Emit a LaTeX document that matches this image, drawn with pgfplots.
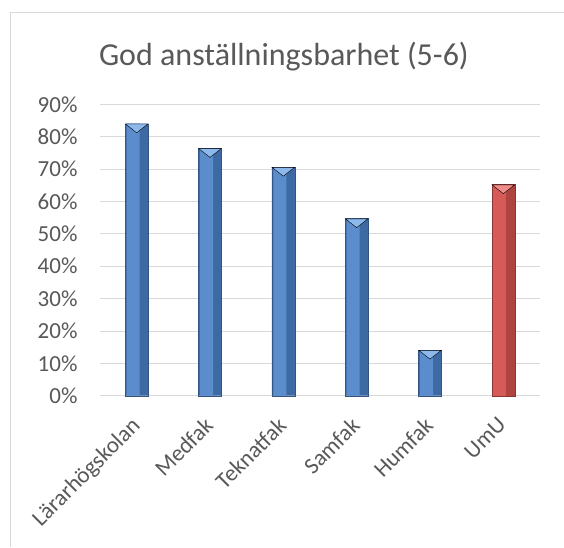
\documentclass[border=0pt]{standalone}
\usepackage{fontspec}
\setmainfont{Carlito}
\usepackage{pgfplots}
\usepackage{pgfplotstable}
\pgfplotsset{compat=1.18}

\definecolor{txt}{HTML}{595959}
\definecolor{gridc}{HTML}{D9D9D9}
\definecolor{blueL}{HTML}{5B8CCC}
\definecolor{blueD}{HTML}{3E6AA4}
\definecolor{blueT}{HTML}{8DB8EC}
\definecolor{redL}{HTML}{D65B58}
\definecolor{redD}{HTML}{AE4340}
\definecolor{redT}{HTML}{F28C8A}

% share of good employability (percent)
\pgfplotstableread{
x  y
0  84.0
1  76.4
2  70.6
3  54.7
4  14.1
}\faculties
\pgfplotstableread{
x  y
5  65.2
}\umu

\begin{document}
\begin{tikzpicture}
% frame of the chart area
\path[use as bounding box, fill=white] (-100pt,-151.3pt) rectangle (464pt,395.7pt);
\draw[gridc, line width=0.8pt] (-90pt,-151.3pt) -- (-90pt,383.7pt) -- (464pt,383.7pt);
\begin{axis}[
    at={(0,0)}, anchor=south west,
    scale only axis,
    width=440pt, height=291.4pt,
    xmin=-0.5, xmax=5.5,
    ymin=0, ymax=90,
    ybar, bar width=23pt, bar shift=0pt,
    xtick={0,...,5},
    xticklabels={Lärarhögskolan, Medfak, Teknatfak, Samfak, Humfak, UmU},
    ytick={0,10,...,90},
    yticklabel={\pgfmathprintnumber{\tick}\%},
    /pgf/number format/assume math mode=true,
    tick style={draw=none},
    axis y line*=left, axis x line*=bottom,
    y axis line style={draw=none},
    x axis line style={draw=gridc, line width=0.8pt},
    xmajorgrids=false, ymajorgrids,
    major grid style={draw=gridc, line width=0.8pt},
    ticklabel style={font=\fontsize{23}{27}\selectfont, text=txt},
    yticklabel style={xshift=-19pt},
    xticklabel style={rotate=45, anchor=north east, xshift=-12.6pt, yshift=-3pt},
    title={God anställningsbarhet (5-6)},
    title style={font=\fontsize{32}{38}\selectfont, text=txt,
        at={(axis description cs:0.418,1)}, anchor=base, yshift=33pt},
    clip=false,
]
\addplot[fill=blueD, draw=blueD!80!black, line width=0.4pt]
    table {\faculties};
\addplot[fill=redD, draw=redD!80!black, line width=0.4pt]
    table {\umu};
% lighter left part of each bar
\addplot[fill=blueL, draw=none, bar width=13pt, bar shift=-3.5pt]
    table {\faculties};
\addplot[fill=redL, draw=none, bar width=13pt, bar shift=-3.5pt]
    table {\umu};
% bevelled tops
\addplot[only marks, mark=triangle*, mark size=13pt,
    mark options={yshift=-3.2pt, yscale=0.45, rotate=180, fill=blueT, draw=none}]
    table {\faculties};
\addplot[only marks, mark=triangle*, mark size=13pt,
    mark options={yshift=-3.2pt, yscale=0.45, rotate=180, fill=redT, draw=none}]
    table {\umu};
\end{axis}
\end{tikzpicture}
\end{document}
